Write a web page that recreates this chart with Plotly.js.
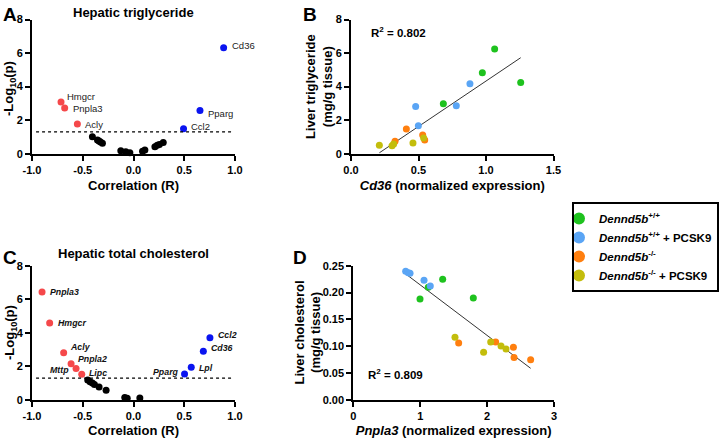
<!DOCTYPE html>
<html><head><meta charset="utf-8">
<script src="https://cdn.plot.ly/plotly-3.0.1.min.js"></script>
<style>html,body{margin:0;padding:0;background:#fff}#chart{width:719px;height:438px}</style>
</head><body><div id="chart"></div><script>
// ---------- Panel A: Hepatic triglyceride (volcano) ----------
const aRedGenes = ['Hmgcr', 'Pnpla3', 'Acly'];
const aRedR = [-0.714, -0.678, -0.553];
const aRedP = [3.08, 2.72, 1.77];
const aBlueGenes = ['Cd36', 'Pparg', 'Ccl2'];
const aBlueR = [0.888, 0.655, 0.493];
const aBlueP = [6.31, 2.58, 1.49];
const aNsR = [-0.405, -0.355, -0.340, -0.325, -0.306, -0.125, -0.076, -0.036, 0.089, 0.112, 0.211, 0.234, 0.255, 0.293];
const aNsP = [1.01, 0.81, 0.75, 0.70, 0.63, 0.18, 0.12, 0.06, 0.14, 0.22, 0.42, 0.50, 0.55, 0.67];

// ---------- Panel C: Hepatic total cholesterol (volcano) ----------
const cRedGenes = ['Pnpla3', 'Hmgcr', 'Acly', 'Pnpla2', 'Mttp', 'Lipc'];
const cRedR = [-0.901, -0.826, -0.688, -0.615, -0.566, -0.510];
const cRedP = [6.43, 4.59, 2.82, 2.16, 1.87, 1.53];
const cBlueGenes = ['Ccl2', 'Cd36', 'Lpl', 'Pparg'];
const cBlueR = [0.753, 0.688, 0.569, 0.503];
const cBlueP = [3.71, 2.90, 1.95, 1.55];
const cNsR = [-0.451, -0.428, -0.405, -0.385, -0.339, -0.270, -0.086, -0.062, 0.0625];
const cNsP = [1.19, 1.09, 1.01, 0.93, 0.77, 0.58, 0.15, 0.11, 0.12];

const pThreshold = 1.3; // -log10(0.05)
const volcanoXTicks = [-1, -0.5, 0, 0.5, 1];
const volcanoXTickText = ['-1.0', '-0.5', '0.0', '0.5', '1.0'];
const volcanoYTicks = [0, 2, 4, 6, 8];

// ---------- Groups ----------
const groupNames = [
  '<i>Dennd5b</i><sup>+/+</sup>',
  '<i>Dennd5b</i><sup>+/+</sup> + PCSK9',
  '<i>Dennd5b</i><sup>-/-</sup>',
  '<i>Dennd5b</i><sup>-/-</sup> + PCSK9'
];

// ---------- Panel B: Cd36 vs liver TG ----------
const bCd36 = [
  [1.064, 0.973, 1.257, 0.684],
  [0.881, 0.479, 0.780, 0.499],
  [0.410, 0.531, 0.546, 0.326],
  [0.538, 0.459, 0.316, 0.304, 0.210]
];
const bTG = [
  [6.24, 4.83, 4.25, 2.98],
  [4.17, 2.82, 2.86, 1.67],
  [1.47, 1.11, 0.82, 0.74],
  [0.94, 0.64, 0.58, 0.48, 0.50]
];
const bR2 = '0.802';

// ---------- Panel D: Pnpla3 vs liver cholesterol ----------
const dPnpla3 = [
  [0.997, 1.121, 1.336, 1.794],
  [0.783, 0.822, 0.848, 1.057, 1.151],
  [1.575, 2.128, 2.393, 2.403, 2.651],
  [1.520, 1.948, 2.054, 2.208, 2.283]
];
const dChol = [
  [0.188, 0.210, 0.225, 0.190],
  [0.2396, 0.237, 0.236, 0.223, 0.212],
  [0.106, 0.108, 0.098, 0.079, 0.075],
  [0.117, 0.089, 0.108, 0.1005, 0.095]
];
const dR2 = '0.809';

// ---------- Styles ----------
const groupColors = ['#1ec21e', '#5aa5f5', '#ff7f0f', '#c3bd0c'];
const redColor = '#f5484a', blueColor = '#0a14f0';
const FONT = 'Liberation Sans, Arial, Helvetica, sans-serif';
const W = 719, H = 438;
const px = v => v / W, py = v => 1 - v / H;

// label offsets (style only)
const aRedOff = [[4, 6, 'left'], [6, 0, 'left'], [6, 0, 'left']];
const aBlueOff = [[6, 2, 'left'], [6, -3, 'left'], [5, 2, 'left']];
const cRedOff = [[6, 0, 'left'], [6, 0, 'left'], [4, 6, 'left'], [5, 5, 'left'], [-5, -1, 'right'], [5, 1, 'left']];
const cBlueOff = [[6, 3, 'left'], [6, 3, 'left'], [6, -1, 'left'], [-4, 2, 'right']];

function fit(xs, ys) {
  const n = xs.length;
  const mx = xs.reduce((a, b) => a + b, 0) / n, my = ys.reduce((a, b) => a + b, 0) / n;
  let sxy = 0, sxx = 0;
  for (let i = 0; i < n; i++) { sxy += (xs[i] - mx) * (ys[i] - my); sxx += (xs[i] - mx) ** 2; }
  const m = sxy / sxx, b = my - m * mx;
  const x0 = Math.min(...xs), x1 = Math.max(...xs);
  return { x: [x0, x1], y: [m * x0 + b, m * x1 + b] };
}

const traces = [];
const mk = (xs, ys, color, xa, ya) => ({
  type: 'scatter', mode: 'markers', x: xs, y: ys, xaxis: xa, yaxis: ya,
  marker: { size: 7, color: color }, showlegend: false, cliponaxis: false, hoverinfo: 'x+y'
});
traces.push(mk(aNsR, aNsP, 'black', 'x', 'y'));
traces.push(mk(aRedR, aRedP, redColor, 'x', 'y'));
traces.push(mk(aBlueR, aBlueP, blueColor, 'x', 'y'));
traces.push(mk(cNsR, cNsP, 'black', 'x3', 'y3'));
traces.push(mk(cRedR, cRedP, redColor, 'x3', 'y3'));
traces.push(mk(cBlueR, cBlueP, blueColor, 'x3', 'y3'));

// regression lines
const bFit = fit(bCd36.flat(), bTG.flat());
const dFit = fit(dPnpla3.flat(), dChol.flat());
traces.push({ type: 'scatter', mode: 'lines', x: bFit.x, y: bFit.y, xaxis: 'x2', yaxis: 'y2', line: { color: '#333', width: 1 }, showlegend: false, hoverinfo: 'skip' });
traces.push({ type: 'scatter', mode: 'lines', x: dFit.x, y: dFit.y, xaxis: 'x4', yaxis: 'y4', line: { color: '#333', width: 1 }, showlegend: false, hoverinfo: 'skip' });

for (let g = 0; g < 4; g++) {
  traces.push({ type: 'scatter', mode: 'markers', x: bCd36[g], y: bTG[g], xaxis: 'x2', yaxis: 'y2', name: groupNames[g], legendgroup: 'g' + g,
    marker: { size: 7, color: groupColors[g] }, showlegend: true, cliponaxis: false });
  traces.push({ type: 'scatter', mode: 'markers', x: dPnpla3[g], y: dChol[g], xaxis: 'x4', yaxis: 'y4', name: groupNames[g], legendgroup: 'g' + g,
    marker: { size: 7, color: groupColors[g] }, showlegend: false, cliponaxis: false });
}

const tickFont = { family: FONT, size: 11, color: 'black', weight: 'bold' };
const titleFont = { family: FONT, size: 13, color: 'black', weight: 'bold' };
function ax(extra) {
  return Object.assign({
    showline: true, linecolor: 'black', linewidth: 2, ticks: 'outside', ticklen: 5, tickwidth: 2, tickcolor: 'black',
    showgrid: false, zeroline: false, tickfont: tickFont, fixedrange: true, automargin: false
  }, extra);
}

const annotations = [];
function labels(genes, xs, ys, offs, xref, yref, font) {
  genes.forEach((g, i) => annotations.push({
    text: g, x: xs[i], y: ys[i], xref: xref, yref: yref, showarrow: false,
    xanchor: offs[i][2], yanchor: 'middle', xshift: offs[i][0], yshift: offs[i][1], font: font
  }));
}
const aLabFont = { family: FONT, size: 9.5, color: '#222' };
const cLabFont = { family: FONT, size: 8.8, color: '#111', weight: 'bold', style: 'italic' };
labels(aRedGenes, aRedR, aRedP, aRedOff, 'x', 'y', aLabFont);
labels(aBlueGenes, aBlueR, aBlueP, aBlueOff, 'x', 'y', aLabFont);
labels(cRedGenes, cRedR, cRedP, cRedOff, 'x3', 'y3', cLabFont);
labels(cBlueGenes, cBlueR, cBlueP, cBlueOff, 'x3', 'y3', cLabFont);

const panelFont = { family: FONT, size: 19, color: 'black', weight: 'bold' };
[['A', 1, 2], ['B', 301, 2], ['C', 1, 245], ['D', 291, 245]].forEach(p => annotations.push({
  text: p[0], xref: 'paper', yref: 'paper', x: px(p[1]), y: py(p[2]), xanchor: 'left', yanchor: 'top', showarrow: false, font: panelFont
}));
annotations.push({ text: 'Hepatic triglyceride', xref: 'paper', yref: 'paper', x: px(133.5), y: py(12), xanchor: 'center', yanchor: 'middle', showarrow: false, font: titleFont });
annotations.push({ text: 'Hepatic total cholesterol', xref: 'paper', yref: 'paper', x: px(133.5), y: py(253), xanchor: 'center', yanchor: 'middle', showarrow: false, font: titleFont });
annotations.push({ text: 'R<sup>2</sup> = ' + bR2, xref: 'x2', yref: 'y2', x: 0.13, y: 7.25, xanchor: 'left', yanchor: 'middle', showarrow: false, font: { family: FONT, size: 11.5, color: 'black', weight: 'bold' } });
annotations.push({ text: 'R<sup>2</sup> = ' + dR2, xref: 'x4', yref: 'y4', x: 0.19, y: 0.048, xanchor: 'left', yanchor: 'middle', showarrow: false, font: { family: FONT, size: 11.5, color: 'black', weight: 'bold' } });

// vertical axis titles (placed as rotated text)
[['-Log<sub>10</sub>(p)', 10, 89],
 ['Liver triglyceride<br>(mg/g tissue)', 318.5, 86.6],
 ['-Log<sub>10</sub>(p)', 10, 333],
 ['Liver cholesterol<br>(mg/g tissue)', 307.5, 333]].forEach(t => annotations.push({
  text: t[0], xref: 'paper', yref: 'paper', x: px(t[1]), y: py(t[2]), xanchor: 'center', yanchor: 'middle',
  textangle: -90, showarrow: false, font: titleFont
}));

const layout = {
  width: W, height: H, margin: { l: 0, r: 0, t: 0, b: 0 }, paper_bgcolor: 'white', plot_bgcolor: 'white',
  font: { family: FONT, color: 'black' }, hovermode: 'closest',
  xaxis: ax({ domain: [px(32), px(235)], range: [-1, 1], anchor: 'y', tickvals: volcanoXTicks, ticktext: volcanoXTickText,
    title: { text: 'Correlation (R)', font: titleFont, standoff: 6 } }),
  yaxis: ax({ domain: [py(153.7), py(19.5)], range: [0, 8], anchor: 'x', tickvals: volcanoYTicks }),
  xaxis2: ax({ domain: [px(351), px(553.5)], range: [0, 1.5], anchor: 'y2', tickvals: [0, 0.5, 1, 1.5], ticktext: ['0.0', '0.5', '1.0', '1.5'],
    title: { text: '<i>Cd36</i> (normalized expression)', font: titleFont, standoff: 6 } }),
  yaxis2: ax({ domain: [py(153.7), py(19.5)], range: [0, 8], anchor: 'x2', tickvals: volcanoYTicks }),
  xaxis3: ax({ domain: [px(32), px(235)], range: [-1, 1], anchor: 'y3', tickvals: volcanoXTicks, ticktext: volcanoXTickText,
    title: { text: 'Correlation (R)', font: titleFont, standoff: 6 } }),
  yaxis3: ax({ domain: [py(400), py(265.7)], range: [0, 8], anchor: 'x3', tickvals: volcanoYTicks }),
  xaxis4: ax({ domain: [px(353.3), px(554)], range: [0, 3], anchor: 'y4', tickvals: [0, 1, 2, 3],
    title: { text: '<i>Pnpla3</i> (normalized expression)', font: titleFont, standoff: 6 } }),
  yaxis4: ax({ domain: [py(400), py(265.7)], range: [0, 0.25], anchor: 'x4', tickvals: [0, 0.05, 0.1, 0.15, 0.2, 0.25], tickformat: '.2f' }),
  shapes: [
    { type: 'line', xref: 'x', yref: 'y', x0: -0.96, x1: 0.97, y0: pThreshold, y1: pThreshold, line: { color: 'black', width: 1.2, dash: 'dot' } },
    { type: 'line', xref: 'x3', yref: 'y3', x0: -0.96, x1: 0.97, y0: pThreshold, y1: pThreshold, line: { color: 'black', width: 1.2, dash: 'dot' } }
  ],
  legend: { x: px(572), y: py(202), xanchor: 'left', yanchor: 'top', bordercolor: 'black', borderwidth: 2, bgcolor: 'white',
    font: { family: FONT, size: 11.5, color: 'black', weight: 'bold' }, itemsizing: 'constant', tracegroupgap: 0,
    indentation: -15, itemwidth: 30 },
  annotations: annotations
};

Plotly.newPlot('chart', traces, layout, { displayModeBar: false, staticPlot: true });
</script></body></html>
